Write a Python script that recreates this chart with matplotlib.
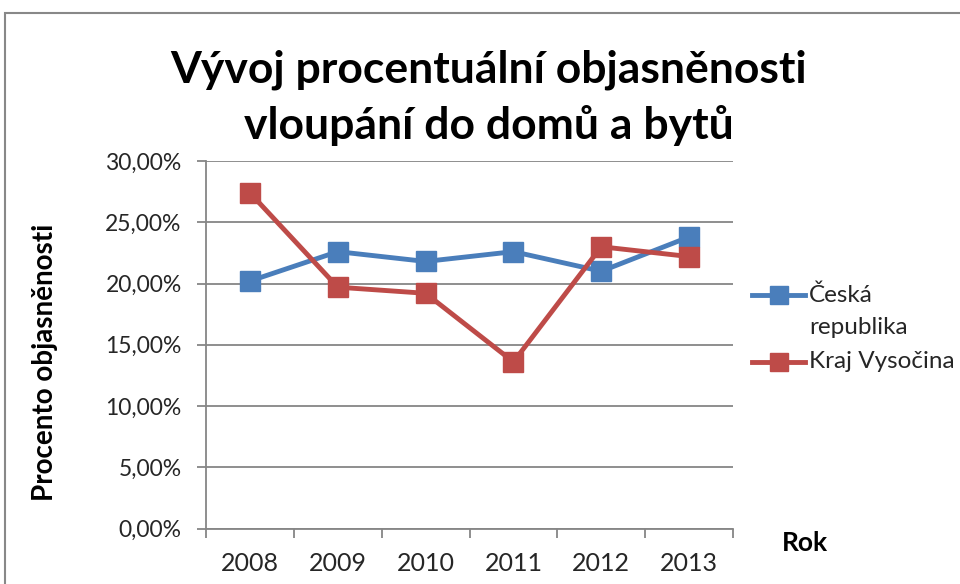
import matplotlib.pyplot as plt
from matplotlib.patches import Rectangle
from matplotlib.lines import Line2D
from matplotlib.ticker import FuncFormatter, FixedLocator

# data
years = ['2008', '2009', '2010', '2011', '2012', '2013']
ceska_republika = [20.2, 22.6, 21.8, 22.6, 21.0, 23.8]
kraj_vysocina = [27.4, 19.7, 19.2, 13.6, 23.0, 22.2]
y_ticks = [0, 5, 10, 15, 20, 25, 30]

blue = '#4A7EBB'
red = '#BE4B48'
grid = '#868686'
txt = '#262626'

plt.rcParams['font.family'] = ['Lato', 'DejaVu Sans']

fig = plt.figure(figsize=(9.6, 5.84), dpi=100)
fig.patches.append(Rectangle((5 / 960, -0.1), 1.1, 1 - 13 / 584 + 0.1,
                             transform=fig.transFigure, fill=False,
                             edgecolor='#888888', linewidth=1.5))

ax = fig.add_axes([206 / 960, 1 - 528.5 / 584, 527 / 960, 367.5 / 584])
x = list(range(len(years)))
ax.plot(x, ceska_republika, color=blue, lw=3.5, marker='s', ms=15,
        markeredgecolor=blue, label='Česká republika')
ax.plot(x, kraj_vysocina, color=red, lw=3.5, marker='s', ms=15,
        markeredgecolor=red, label='Kraj Vysočina')

ax.set_xlim(-0.5, len(years) - 0.5)
ax.set_ylim(0, 30)
ax.set_yticks(y_ticks)
ax.yaxis.set_major_formatter(FuncFormatter(lambda v, p: f'{v:.2f}'.replace('.', ',') + '%'))
ax.yaxis.grid(True, color=grid, lw=1.3)
ax.set_axisbelow(True)

ax.xaxis.set_major_locator(FixedLocator([i - 0.5 for i in range(len(years) + 1)]))
ax.xaxis.set_major_formatter(FuncFormatter(lambda v, p: ''))
ax.set_xticks(x, minor=True)
ax.set_xticklabels(years, minor=True)
ax.tick_params(axis='x', which='minor', length=0, pad=17, labelsize=18, labelcolor=txt)
ax.tick_params(axis='x', which='major', length=6.5, color=grid, width=1.3)
ax.tick_params(axis='y', length=6.5, color=grid, width=1.3, labelsize=16.5,
               pad=11, labelcolor=txt)

for s in ['top', 'right']:
    ax.spines[s].set_visible(False)
for s in ['left', 'bottom']:
    ax.spines[s].set_color(grid)
    ax.spines[s].set_linewidth(1.3)

fig.text(489 / 960, 1 - 70 / 584, 'Vývoj procentuální objasněnosti',
         ha='center', va='center', fontsize=32, fontweight='bold')
fig.text(489 / 960, 1 - 125 / 584, 'vloupání do domů a bytů',
         ha='center', va='center', fontsize=32, fontweight='bold')
fig.text(45 / 960, 1 - 362 / 584, 'Procento objasněnosti', rotation=90,
         ha='center', va='center', fontsize=20, fontweight='bold')
fig.text(805 / 960, 1 - 543 / 584, 'Rok', ha='center', va='center',
         fontsize=19, fontweight='bold')

# legend drawn like the Excel one
for yy, col in [(295, blue), (362, red)]:
    fig.add_artist(Line2D([752 / 960, 805 / 960], [1 - yy / 584] * 2,
                          color=col, lw=3.5, transform=fig.transFigure))
    fig.add_artist(Line2D([778.5 / 960], [1 - yy / 584], color=col, marker='s',
                          ms=13, transform=fig.transFigure))
fig.text(809 / 960, 1 - 295 / 584, 'Česká', va='center', fontsize=17.5, color=txt)
fig.text(809 / 960, 1 - 328 / 584, 'republika', va='center', fontsize=17.5, color=txt)
fig.text(809 / 960, 1 - 362 / 584, 'Kraj Vysočina', va='center', fontsize=17.5, color=txt)

fig.savefig('out.png', dpi=100)
